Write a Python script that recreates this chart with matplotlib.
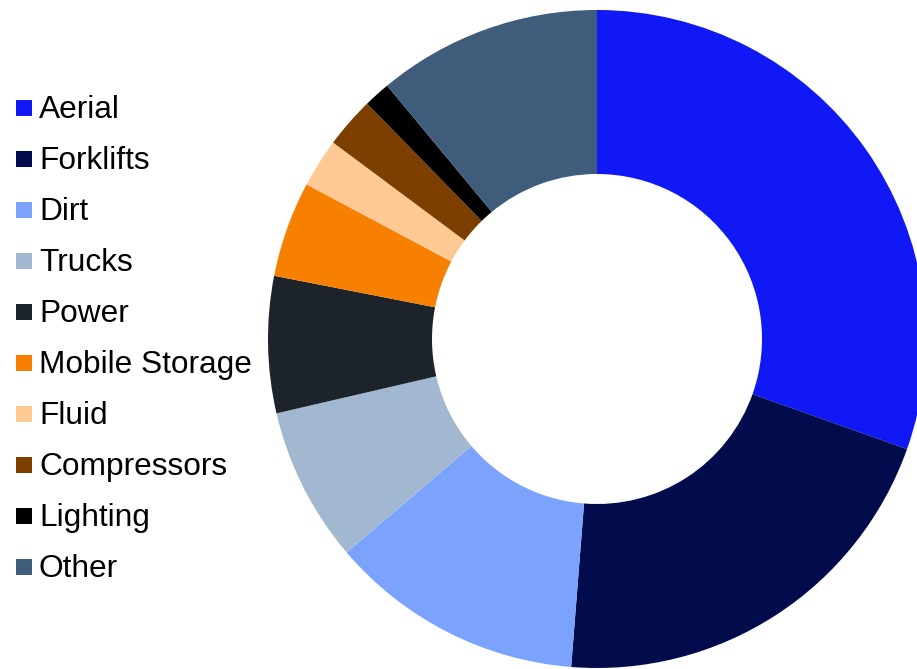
import matplotlib
matplotlib.use('Agg')
import matplotlib.pyplot as plt
from matplotlib.patches import Rectangle

# share of fleet by category (percent)
categories = ["Aerial", "Forklifts", "Dirt", "Trucks", "Power",
              "Mobile Storage", "Fluid", "Compressors", "Lighting", "Other"]
shares = [30.4, 20.8, 12.5, 7.6, 6.7, 4.7, 2.4, 2.5, 1.3, 11.0]
colors = ["#0F18F5", "#020B4C", "#7BA3FD", "#A2B8D0", "#1C232B",
          "#F78000", "#FFC994", "#7C3F00", "#000000", "#3F5C7B"]

W, H = 917, 669
fig = plt.figure(figsize=(W / 100, H / 100), dpi=100)
ax = fig.add_axes([0, 0, 1, 1])

outer_r = 329
inner_r = 165
ax.pie(shares, colors=colors, startangle=90, counterclock=False,
       center=(597, H - 339), radius=outer_r, frame=True,
       wedgeprops=dict(width=outer_r - inner_r, linewidth=0))
ax.set_xlim(0, W)
ax.set_ylim(0, H)
ax.set_aspect('auto')
ax.axis('off')

# legend, drawn by hand to match spacing
for i, (name, c) in enumerate(zip(categories, colors)):
    yc = 108 + 51 * i
    ax.add_patch(Rectangle((16, H - yc - 8), 16, 16, facecolor=c, edgecolor='none'))
    ax.text(39, H - yc + 1.5, name, fontsize=22.8, family='Liberation Sans',
            va='center_baseline', ha='left', color='#000000')

plt.savefig('out.png', dpi=100)
